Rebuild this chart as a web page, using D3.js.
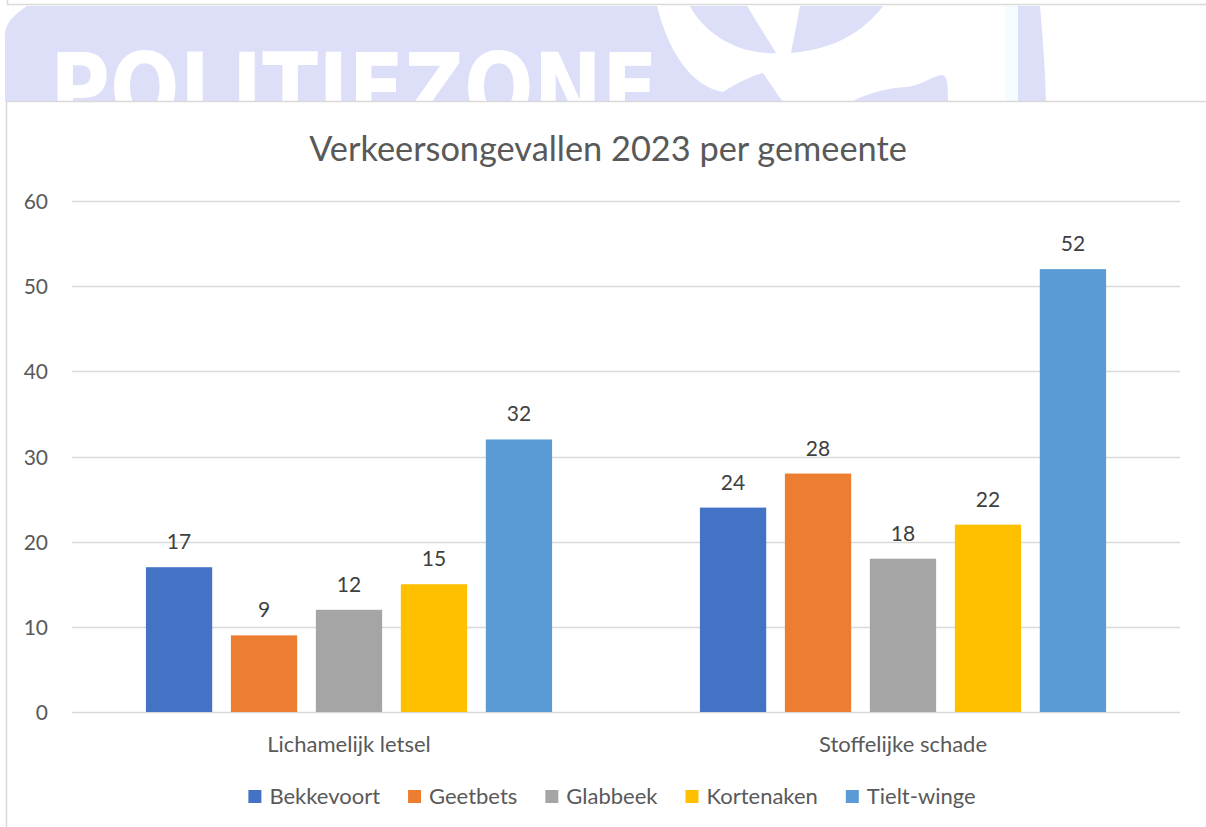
<!DOCTYPE html>
<html>
<head>
<meta charset="utf-8">
<script src="https://cdn.jsdelivr.net/npm/d3@7"></script>
<style>
  body { margin: 0; background: #fff; }
  svg { display: block; font-family: Lato, "Open Sans", sans-serif; }
</style>
</head>
<body>
<script>
// data
var categories = ["Lichamelijk letsel", "Stoffelijke schade"];
var seriesNames = ["Bekkevoort", "Geetbets", "Glabbeek", "Kortenaken", "Tielt-winge"];
var bekkevoort = [17, 24];
var geetbets = [9, 28];
var glabbeek = [12, 18];
var kortenaken = [15, 22];
var tieltWinge = [32, 52];
var yTicks = [0, 10, 20, 30, 40, 50, 60];
var colors = ["#4472C4", "#ED7D31", "#A5A5A5", "#FFC000", "#5B9BD5"];
var title = "Verkeersongevallen 2023 per gemeente";

var seriesValues = [bekkevoort, geetbets, glabbeek, kortenaken, tieltWinge];

var W = 1206, H = 827;
var svg = d3.select("body").append("svg").attr("width", W).attr("height", H);

// --- watermark strip above the chart (cropped page background)
svg.append("clipPath").attr("id", "stripClip")
  .append("rect").attr("x", 0).attr("y", 0).attr("width", W).attr("height", 101);
var strip = svg.append("g").attr("clip-path", "url(#stripClip)");
strip.append("rect").attr("x", 7.5).attr("y", -100).attr("width", 1300).attr("height", 104.5)
  .attr("fill", "none").attr("stroke", "#d9d9d9").attr("stroke-width", 1.5);
strip.append("path")
  .attr("d", "M27,6 L1040,6 C1043,40 1045,70 1046,101 L5,101 L5,40 C4,25 10,18 27,6 Z")
  .attr("fill", "#dddef8");
strip.append("text").attr("x", 50).attr("y", 122)
  .attr("font-family", "'DejaVu Sans', sans-serif").attr("font-weight", "bold")
  .attr("font-size", 96).attr("fill", "#fff")
  .attr("textLength", 608).attr("lengthAdjust", "spacingAndGlyphs")
  .text("POLITIEZONE");
// logo shapes (white)
strip.append("path")
  .attr("d", "M657,6 C668,50 690,86 723,92 L723,101 L1006,101 L1006,6 Z")
  .attr("fill", "#fff");
strip.append("path")
  .attr("d", "M690,6 C705,35 740,55 777,53 L790,53 C835,50 865,30 883,6 Z")
  .attr("fill", "#dddef8");
strip.append("path")
  .attr("d", "M747,6 L776,53 L791,53 L800,6 Z")
  .attr("fill", "#fff");
strip.append("path")
  .attr("d", "M723,101 L723,92 C738,82 752,76 763,73 L782,101 Z")
  .attr("fill", "#dddef8");
strip.append("path")
  .attr("d", "M853,101 C870,92 890,88 907,87 C925,84 932,76 942,75 C947,76 948,82 948,101 Z")
  .attr("fill", "#dddef8");
strip.append("rect").attr("x", 1005).attr("y", 6).attr("width", 13).attr("height", 95)
  .attr("fill", "#f4fcff");

// --- chart frame
svg.append("rect").attr("x", 6.5).attr("y", 101.5).attr("width", 1300).attr("height", 800)
  .attr("fill", "#fff").attr("stroke", "#d9d9d9").attr("stroke-width", 1.5);

var plot = { left: 72, right: 1180, top: 201, bottom: 712 };

var y = d3.scaleLinear().domain([0, 60]).range([plot.bottom, plot.top]);
var x0 = d3.scaleBand().domain(categories).range([plot.left, plot.right]).padding(0);
var x1 = d3.scaleBand().domain(seriesNames).range([0, x0.bandwidth()])
  .paddingInner(0.22).paddingOuter(0.87);

// gridlines
svg.append("g").selectAll("line").data(yTicks).join("line")
  .attr("x1", plot.left).attr("x2", plot.right)
  .attr("y1", function(d) { return Math.round(y(d)) + 0.5; })
  .attr("y2", function(d) { return Math.round(y(d)) + 0.5; })
  .attr("stroke", "#d9d9d9").attr("stroke-width", 1.3);

// y axis labels
var yAxis = d3.axisLeft(y).tickValues(yTicks).tickSize(0).tickPadding(0);
var yg = svg.append("g").attr("transform", "translate(48,0)").call(yAxis);
yg.select(".domain").remove();
yg.selectAll("text").attr("font-family", "Lato, sans-serif").attr("font-size", 21)
  .attr("fill", "#595959").attr("dy", "0.36em");

// bars
var groups = svg.append("g").selectAll("g").data(categories).join("g")
  .attr("transform", function(d) { return "translate(" + x0(d) + ",0)"; });

groups.each(function(cat, ci) {
  var g = d3.select(this);
  seriesNames.forEach(function(s, si) {
    var v = seriesValues[si][ci];
    g.append("rect")
      .attr("x", x1(s)).attr("width", x1.bandwidth())
      .attr("y", y(v)).attr("height", y(0) - y(v))
      .attr("fill", colors[si]);
    g.append("text")
      .attr("x", x1(s) + x1.bandwidth() / 2).attr("y", y(v) - 18)
      .attr("text-anchor", "middle").attr("font-size", 21).attr("fill", "#404040")
      .text(v);
  });
});

// category labels
svg.append("g").selectAll("text").data(categories).join("text")
  .attr("x", function(d) { return x0(d) + x0.bandwidth() / 2; })
  .attr("y", 752).attr("text-anchor", "middle")
  .attr("font-size", 22).attr("fill", "#595959")
  .text(function(d) { return d; });

// title, fitted to the width it has in the original
var t = svg.append("text").attr("x", 608).attr("y", 161).attr("text-anchor", "middle")
  .attr("font-size", 36).attr("fill", "#595959").text(title);
var tw = t.node().getComputedTextLength();
t.attr("font-size", 36 * 598 / tw);

// legend
var legend = svg.append("g");
var lx = 0;
seriesNames.forEach(function(s, i) {
  var item = legend.append("g").attr("transform", "translate(" + lx + ",0)");
  item.append("rect").attr("x", 0).attr("y", 790).attr("width", 13).attr("height", 13)
    .attr("fill", colors[i]);
  var txt = item.append("text").attr("x", 21).attr("y", 804)
    .attr("font-size", 22).attr("fill", "#595959").text(s);
  lx += 21 + txt.node().getComputedTextLength() + 28;
});
var legendW = lx - 28;
legend.attr("transform", "translate(" + (612 - legendW / 2) + ",0)");
</script>
</body>
</html>
